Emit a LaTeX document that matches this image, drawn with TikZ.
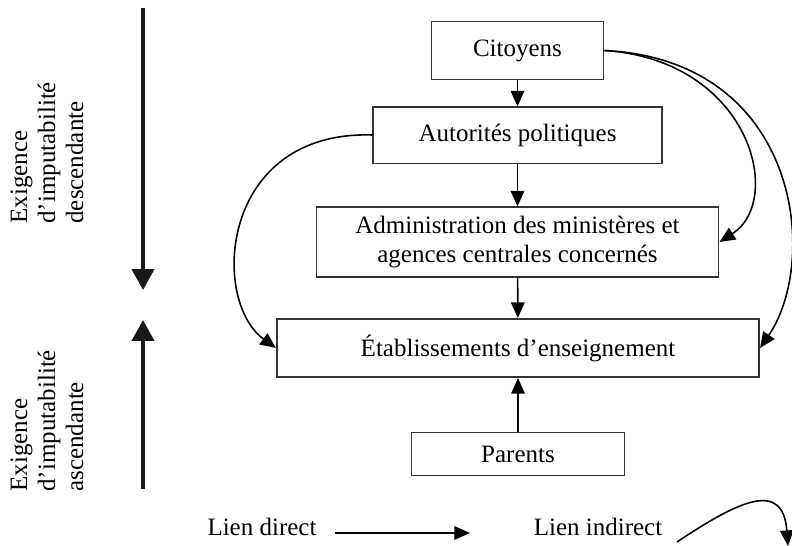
\documentclass[tikz,border=0pt]{standalone}
\usepackage{fontspec}
\setmainfont{Liberation Serif}
\usetikzlibrary{arrows.meta}
\tikzset{
  boite/.style={shape=rectangle, draw=black!80, line width=0.5pt, inner sep=0pt,
    font=\fontsize{12}{13.6}\selectfont, align=center},
  lien/.style={draw=black, line width=0.75pt, -{Triangle[length=7.5pt,width=6.5pt]}},
  sens/.style={draw=black!90, line width=1.9pt, -{Triangle[length=10pt,width=10.5pt]}},
  etiquette/.style={font=\fontsize{12}{13.4}\selectfont, align=left, inner sep=0pt}
}
\begin{document}
\begin{tikzpicture}[x=0.48pt, y=-0.48pt]
  \useasboundingbox (0,0) rectangle (792,546);
     \path (517.5, 50.5) node (cit) [boite, minimum width=83pt, minimum height=27.4pt] {Citoyens}
           (517.5, 135) node (aut) [boite, minimum width=138.7pt, minimum height=26.9pt] {Autorités politiques}
           (517.5, 242) node (adm) [boite, minimum width=193.4pt, minimum height=33.6pt]
               {Administration des ministères et\\agences centrales concernés}
           (518, 348) node (eta) [boite, line width=1pt, minimum width=231.4pt, minimum height=27.8pt]
               {Établissements d’enseignement}
           (518, 454) node (par) [boite, minimum width=101.8pt, minimum height=20.2pt] {Parents}
     ;
  % liens directs
  \draw [lien] (cit) -- (aut);
  \draw [lien] (aut) -- (adm);
  \draw [lien] (adm) -- (eta);
  \draw [lien] (par) -- (eta);
  % liens indirects
  \draw [lien] (cit.east) .. controls (750,60) and (785,200) .. (adm.east);
  \draw [lien] (cit.east) .. controls (800,60) and (820,260) .. (eta.east);
  \draw [lien] (aut.west) .. controls (220,130) and (210,300) .. (eta.west);

  % exigences
  \coordinate (desc1) at (143, 8);
  \coordinate (desc2) at (143, 290);
  \coordinate (asc1) at (143, 489);
  \coordinate (asc2) at (143, 320);
  \draw [sens] (desc1) -- (desc2);
  \draw [sens] (asc1) -- (asc2);
  \path (47, 224) node (txtdesc) [etiquette, rotate=90, anchor=west]
           {Exigence\\d’imputabilité\\descendante}
        (47, 492) node (txtasc) [etiquette, rotate=90, anchor=west]
           {Exigence\\d’imputabilité\\ascendante};

  % legende
  \path (262, 527) node (leg1) [etiquette] {Lien direct}
        (598, 527) node (leg2) [etiquette] {Lien indirect};
  \coordinate (d1) at (335, 533);
  \coordinate (d2) at (470, 533);
  \coordinate (i1) at (677, 542);
  \coordinate (i2) at (788, 546);
  \draw [lien] (d1) -- (d2);
  \draw [lien] (i1) .. controls (740,500) and (783,480) .. (i2);
\end{tikzpicture}
\end{document}
